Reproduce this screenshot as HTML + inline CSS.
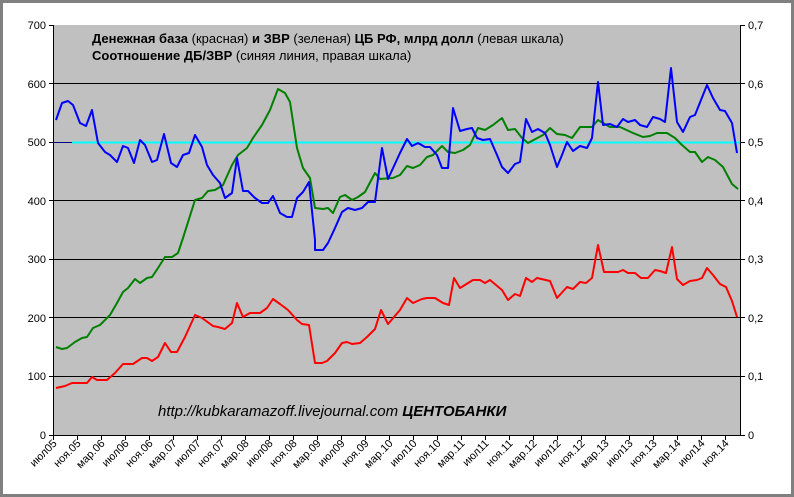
<!DOCTYPE html>
<html><head><meta charset="utf-8"><style>
html,body{margin:0;padding:0;background:#fff;}
svg{display:block;font-family:"Liberation Sans",Arial,sans-serif;}
</style></head><body>
<svg width="794" height="497" viewBox="0 0 794 497" xmlns="http://www.w3.org/2000/svg">
<rect x="1.5" y="1.5" width="791" height="494" fill="#fff" stroke="#808080" stroke-width="3"/>
<rect x="53" y="25" width="687" height="410" fill="#c0c0c0"/>
<g stroke="#000" stroke-width="1">
<line x1="53" y1="83.5" x2="740" y2="83.5"/>
<line x1="53" y1="142.5" x2="740" y2="142.5"/>
<line x1="53" y1="200.5" x2="740" y2="200.5"/>
<line x1="53" y1="259.5" x2="740" y2="259.5"/>
<line x1="53" y1="317.5" x2="740" y2="317.5"/>
<line x1="53" y1="376.5" x2="740" y2="376.5"/>
<line x1="53.5" y1="25" x2="53.5" y2="435"/>
<line x1="740.5" y1="25" x2="740.5" y2="435"/>
<line x1="53" y1="435.5" x2="740" y2="435.5"/>
</g>
<g stroke="#000" stroke-width="1">
<line x1="49" y1="25.5" x2="53" y2="25.5"/><line x1="49" y1="83.5" x2="53" y2="83.5"/><line x1="49" y1="142.5" x2="53" y2="142.5"/><line x1="49" y1="200.5" x2="53" y2="200.5"/><line x1="49" y1="259.5" x2="53" y2="259.5"/><line x1="49" y1="317.5" x2="53" y2="317.5"/><line x1="49" y1="376.5" x2="53" y2="376.5"/><line x1="49" y1="435.5" x2="53" y2="435.5"/>
<line x1="740" y1="25.5" x2="745" y2="25.5"/><line x1="740" y1="83.5" x2="745" y2="83.5"/><line x1="740" y1="142.5" x2="745" y2="142.5"/><line x1="740" y1="200.5" x2="745" y2="200.5"/><line x1="740" y1="259.5" x2="745" y2="259.5"/><line x1="740" y1="317.5" x2="745" y2="317.5"/><line x1="740" y1="376.5" x2="745" y2="376.5"/><line x1="740" y1="435.5" x2="745" y2="435.5"/>
</g>
<g font-size="11" fill="#000" text-anchor="end">
<text x="46" y="29">700</text><text x="46" y="88">600</text><text x="46" y="146">500</text><text x="46" y="205">400</text><text x="46" y="263">300</text><text x="46" y="322">200</text><text x="46" y="380">100</text><text x="46" y="439">0</text>
</g>
<g font-size="11" fill="#000">
<text x="748" y="29">0,7</text><text x="748" y="88">0,6</text><text x="748" y="146">0,5</text><text x="748" y="205">0,4</text><text x="748" y="263">0,3</text><text x="748" y="322">0,2</text><text x="748" y="380">0,1</text><text x="748" y="439">0</text>
</g>
<path stroke="#000" stroke-width="1" fill="none" d="M53.5 435v5M77.5 435v5M101.5 435v5M125.5 435v5M149.5 435v5M173.5 435v5M197.5 435v5M221.5 435v5M245.5 435v5M269.5 435v5M293.5 435v5M317.5 435v5M341.5 435v5M365.5 435v5M389.5 435v5M413.5 435v5M437.5 435v5M461.5 435v5M485.5 435v5M509.5 435v5M533.5 435v5M557.5 435v5M581.5 435v5M605.5 435v5M629.5 435v5M653.5 435v5M677.5 435v5M701.5 435v5M725.5 435v5"/>
<g font-size="11" fill="#000" text-anchor="end">
<text transform="translate(57.5,444) rotate(-45)">июл05</text>
<text transform="translate(81.5,444) rotate(-45)">ноя.05</text>
<text transform="translate(105.5,444) rotate(-45)">мар.06</text>
<text transform="translate(129.5,444) rotate(-45)">июл06</text>
<text transform="translate(153.5,444) rotate(-45)">ноя.06</text>
<text transform="translate(177.5,444) rotate(-45)">мар.07</text>
<text transform="translate(201.5,444) rotate(-45)">июл07</text>
<text transform="translate(225.5,444) rotate(-45)">ноя.07</text>
<text transform="translate(249.5,444) rotate(-45)">мар.08</text>
<text transform="translate(273.5,444) rotate(-45)">июл08</text>
<text transform="translate(297.5,444) rotate(-45)">ноя.08</text>
<text transform="translate(321.5,444) rotate(-45)">мар.09</text>
<text transform="translate(345.5,444) rotate(-45)">июл09</text>
<text transform="translate(369.5,444) rotate(-45)">ноя.09</text>
<text transform="translate(393.5,444) rotate(-45)">мар.10</text>
<text transform="translate(417.5,444) rotate(-45)">июл10</text>
<text transform="translate(441.5,444) rotate(-45)">ноя.10</text>
<text transform="translate(465.5,444) rotate(-45)">мар.11</text>
<text transform="translate(489.5,444) rotate(-45)">июл11</text>
<text transform="translate(513.5,444) rotate(-45)">ноя.11</text>
<text transform="translate(537.5,444) rotate(-45)">мар.12</text>
<text transform="translate(561.5,444) rotate(-45)">июл12</text>
<text transform="translate(585.5,444) rotate(-45)">ноя.12</text>
<text transform="translate(609.5,444) rotate(-45)">мар.13</text>
<text transform="translate(633.5,444) rotate(-45)">июл13</text>
<text transform="translate(657.5,444) rotate(-45)">ноя.13</text>
<text transform="translate(681.5,444) rotate(-45)">мар.14</text>
<text transform="translate(705.5,444) rotate(-45)">июл14</text>
<text transform="translate(729.5,444) rotate(-45)">ноя.14</text>
</g>
<line x1="53" y1="142.5" x2="72" y2="142.5" stroke="#000080" stroke-width="1"/>
<line x1="72" y1="142.5" x2="740" y2="142.5" stroke="#00ffff" stroke-width="2"/>
<g fill="none" stroke-width="2" stroke-linejoin="round">
<polyline stroke="#008000" points="56,347 62,349 67,348 75,342 82,338 87,337 93,328 100,325 110,315 117,303 123,292 128,288 135,279 140,283 147,278 152,277 158,268 165,257 172,257 178,253 183,238 195,200 202,198 208,191 215,190 223,185 232,165 238,155 247,148 253,138 262,125 270,110 278,89 285,93 290,102 297,148 303,168 310,178 315,208 323,209 328,208 333,213 340,197 345,195 352,200 358,197 365,192 375,173 380,179 393,178 400,175 407,166 413,168 420,165 427,157 433,155 442,146 448,152 455,153 463,150 470,145 478,128 485,130 493,125 502,118 508,130 515,129 522,138 528,143 543,135 550,128 557,134 565,135 572,138 580,127 592,127 598,120 610,127 620,127 633,133 643,137 650,136 657,133 667,133 675,138 682,145 690,152 695,152 702,162 708,157 715,160 723,167 732,184 738,189"/>
<polyline stroke="#ff0000" points="56,388 65,386 72,383 87,383 92,377 97,380 107,380 115,373 123,364 133,364 142,358 147,358 152,361 158,357 165,343 171,352 177,352 185,337 195,315 202,318 213,326 218,327 225,329 232,323 237,303 243,317 250,313 260,313 267,308 273,299 280,304 288,310 297,320 302,324 309,325 315,363 322,363 327,361 335,353 342,343 347,342 352,344 360,343 367,337 375,329 381,310 388,324 400,310 407,298 413,303 422,299 427,298 435,298 443,303 449,305 454,278 460,288 473,280 480,280 485,283 490,280 502,290 508,300 515,294 520,296 526,278 532,282 537,278 550,281 557,298 567,287 573,289 580,282 586,283 592,278 598,245 604,272 618,272 623,270 628,273 635,273 641,278 648,278 655,270 660,271 666,273 672,247 677,279 683,285 690,281 697,280 702,278 707,268 713,275 720,284 726,287 732,301 737,317"/>
<polyline stroke="#0000ff" points="56,120 62,103 68,101 73,105 80,123 86,126 92,110 98,143 105,152 110,155 117,162 123,146 128,148 134,163 140,140 145,145 152,162 157,160 164,134 171,163 177,167 183,155 189,153 195,135 202,147 207,165 213,175 220,183 225,198 232,193 237,158 243,191 248,191 255,198 262,203 268,203 273,196 280,213 287,217 292,217 297,198 303,192 309,182 315,240 315,250 323,250 328,243 335,228 342,212 348,208 355,210 362,208 368,202 375,202 382,148 388,179 400,153 407,139 412,146 418,143 425,147 430,147 437,155 442,168 448,168 453,108 460,131 467,129 472,128 477,138 483,140 490,139 497,155 502,167 508,173 515,164 520,162 526,119 532,132 538,129 545,133 550,145 557,167 562,155 567,142 573,151 580,146 587,148 592,138 598,82 603,125 610,124 617,127 623,119 628,122 635,120 640,125 647,127 653,117 660,119 665,122 671,68 677,122 683,132 690,117 695,115 707,85 713,98 720,110 725,111 732,123 737,153"/>
</g>
<g font-size="13" fill="#000">
<text x="92" y="43"><tspan font-weight="bold">Денежная база</tspan> (красная) <tspan font-weight="bold">и ЗВР</tspan> (зеленая) <tspan font-weight="bold">ЦБ РФ, млрд долл</tspan> (левая шкала)</text>
<text x="92" y="60"><tspan font-weight="bold">Соотношение ДБ/ЗВР</tspan> (синяя линия, правая шкала)</text>
</g>
<text x="158" y="416" font-size="15" font-style="italic" fill="#000">http://kubkaramazoff.livejournal.com <tspan font-weight="bold">ЦЕНТОБАНКИ</tspan></text>
</svg>
</body></html>
